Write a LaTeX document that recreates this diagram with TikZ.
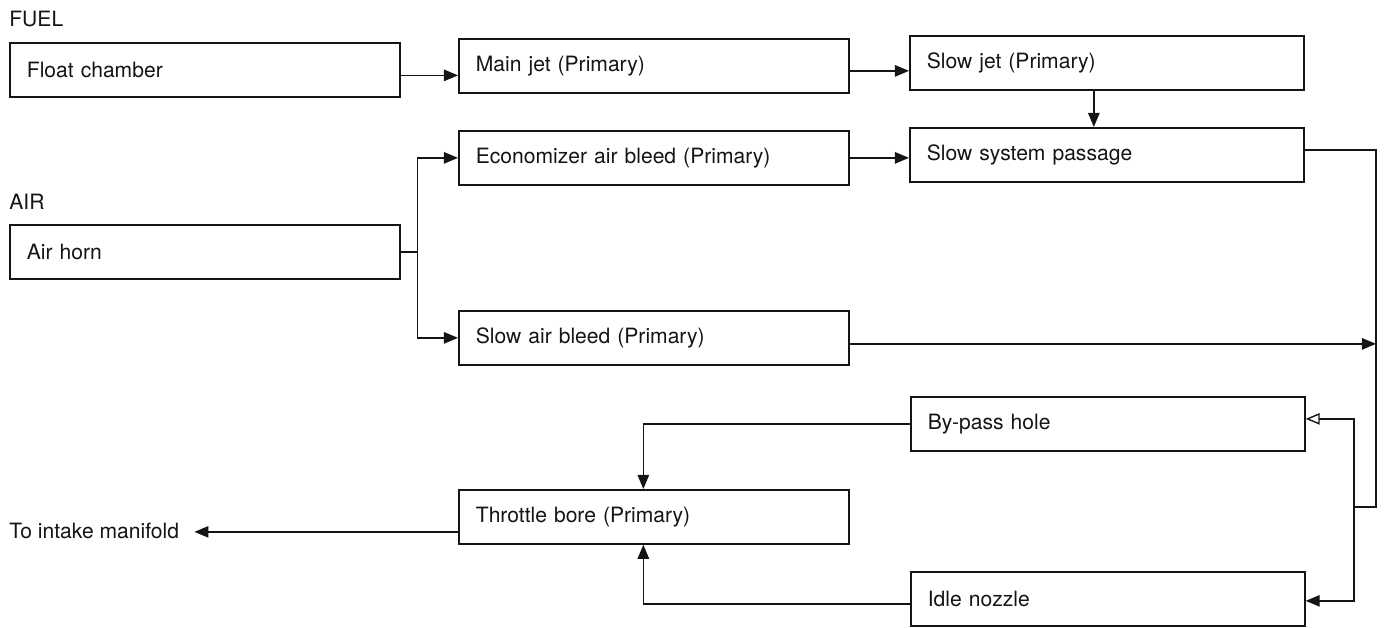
\documentclass[tikz,border=0pt]{standalone}
\usepackage{fontspec}
\setmainfont{TeX Gyre Heros}
\usetikzlibrary{arrows.meta}
\definecolor{ink}{HTML}{151515}

\begin{document}
\begin{tikzpicture}[
    x=0.02cm, y=-0.02cm,
    >={Triangle[length=8pt, width=6.5pt]},
    every node/.style={text=ink, font=\fontsize{12}{14}\selectfont},
    blk/.style={draw=ink, line width=1pt, anchor=north west, align=left,
      text width=7.12cm, inner xsep=0.34cm, minimum height=1.08cm},
    blkwide/.style={blk, text width=7.2cm},
    flow/.style={->, ink, line width=0.8pt},
    flowopen/.style={flow, >={Triangle[open, length=8pt, width=6.5pt]}},
    link/.style={ink, line width=0.8pt},
  ]

  % Page
  \useasboundingbox[fill=white] (0,0) rectangle (1384,628);

  % === Headings ===
  \node[anchor=west, inner sep=0pt] (fuel) at (9,19) {FUEL};
  \node[anchor=west, inner sep=0pt] (air) at (9,202) {AIR};

  % === Left column ===
  \node[blk] (float) at (9,42) {Float chamber};
  \node[blk] (horn) at (9,224) {Air horn};
  \node[anchor=west, inner sep=0pt] (manifold) at (9,531) {To intake manifold};

  % === Middle column ===
  \node[blk] (mainjet) at (458,38) {Main jet (Primary)};
  \node[blk] (econ) at (458,130) {Economizer air bleed (Primary)};
  \node[blk] (slowair) at (458,310) {Slow air bleed (Primary)};
  \node[blk] (throttle) at (458,489) {Throttle bore (Primary)};

  % === Right column ===
  \node[blkwide] (slowjet) at (909,35) {Slow jet (Primary)};
  \node[blkwide] (ssp) at (909,127) {Slow system passage};
  \node[blkwide] (bypass) at (910,396) {By-pass hole};
  \node[blkwide] (idle) at (910,571) {Idle nozzle};

  % --- Fuel path ---
  \draw[flow] ([yshift=-0.11cm]float.east) -- ([yshift=-0.11cm]float.east -| mainjet.west);
  \draw[flow] ([yshift=-0.1cm]mainjet.east) -- ([yshift=-0.1cm]mainjet.east -| slowjet.west);
  \draw[flow] ([xshift=-0.26cm]slowjet.south) -- ([xshift=-0.26cm]slowjet.south |- ssp.north);

  % --- Air path ---
  \draw[link] (horn.east) -- ++(17,0) coordinate (split);
  \draw[flow] (split) |- (econ.west);
  \draw[flow] (split) |- (slowair.west);
  \draw[flow] (econ.east) -- (econ.east -| ssp.west);

  % --- Mixture bus on the right ---
  \coordinate (jog) at (1376,507);
  \coordinate (tap) at (1354,507);
  \draw[link] ([yshift=0.1cm]ssp.east) -| (jog) -- (tap);
  \draw[flow] ([yshift=-0.12cm]slowair.east) -- ([yshift=-0.12cm]slowair.east -| jog);
  \draw[flowopen] (tap) |- ([yshift=0.1cm]bypass.east);
  \draw[flow] (tap) |- ([yshift=-0.04cm]idle.east);

  % --- Into the throttle bore ---
  \draw[flow] (bypass.west) -| ([xshift=-0.21cm]throttle.north);
  \draw[flow] ([yshift=-0.1cm]idle.west) -| ([xshift=-0.21cm]throttle.south);
  \draw[flow, shorten >=0.3cm] ([yshift=-0.3cm]throttle.west) -- ([yshift=-0.3cm]throttle.west -| manifold.east);

\end{tikzpicture}
\end{document}
